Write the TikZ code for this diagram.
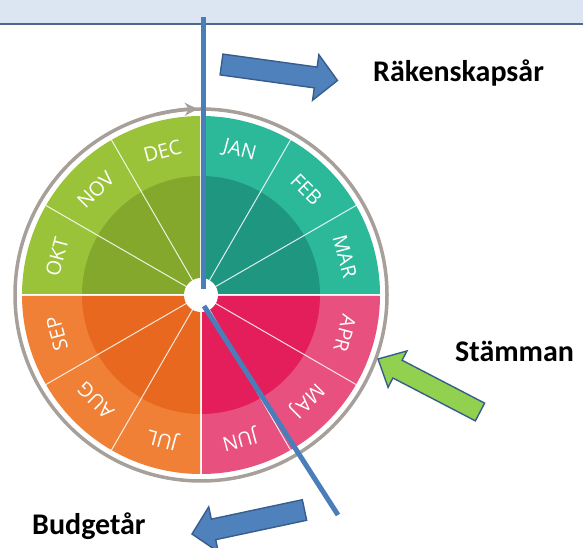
\documentclass[tikz,border=0pt]{standalone}
\usepackage{fontspec}
\setmainfont{Carlito}
\newfontfamily\monthfont{Open Sans}
\usepackage{tikz}
\usetikzlibrary{arrows.meta,calc}

\definecolor{hdrfill}{HTML}{DCE6F2}
\definecolor{hdrline}{HTML}{4A6890}
\definecolor{ringgray}{HTML}{A7A09A}
\definecolor{qoneout}{HTML}{2BB99A}
\definecolor{qonein}{HTML}{1F9680}
\definecolor{qtwoout}{HTML}{E8507F}
\definecolor{qtwoin}{HTML}{E31E5B}
\definecolor{qthreeout}{HTML}{EF8036}
\definecolor{qthreein}{HTML}{E8681F}
\definecolor{qfourout}{HTML}{9BC33A}
\definecolor{qfourin}{HTML}{84A82B}
\definecolor{pinblue}{HTML}{4A7EBB}
\definecolor{arrblue}{HTML}{4F81BD}
\definecolor{arrgreen}{HTML}{92D050}
\definecolor{arredge}{HTML}{385D8A}

% block arrow: style, tail, tip, shaft half width, head half width
\newcommand{\blockarrow}[5]{%
  \coordinate (hb) at ($(#3)!22pt!(#2)$);
  \draw[#1] ($(#2)!#4!90:(#3)$) -- ($(hb)!#4!-90:(#2)$) -- ($(hb)!#5!-90:(#2)$)
    -- (#3) -- ($(hb)!#5!90:(#2)$) -- ($(hb)!#4!90:(#2)$) -- ($(#2)!#4!-90:(#3)$) -- cycle;
}

\begin{document}
\begin{tikzpicture}[x=1pt, y=1pt,
    spoke/.style={white, opacity=0.85, line width=1pt},
    month/.style={white, font=\monthfont\fontsize{20}{20}\selectfont, inner sep=0pt},
    label/.style={font=\bfseries\fontsize{30}{36}\selectfont, anchor=base west, inner sep=0pt},
    pin/.style={pinblue, line width=5pt},
    bluearrow/.style={fill=arrblue, draw=arredge, line width=1.4pt, line join=miter},
    greenarrow/.style={fill=arrgreen, draw=arredge, line width=1.4pt, line join=miter}]
    \useasboundingbox (0,0) rectangle (583,548);

    % header band
    \fill[hdrfill] (0,524) rectangle (583,548);
    \draw[hdrline, line width=2.2pt] (0,524) -- (583,524);

    \coordinate (C) at (201,253);

    \begin{scope}[shift={(C)}]
        % outer ring with arrow
        \draw[ringgray, line width=3.5pt] (0,0) circle (186);
        \draw[ringgray, line width=3.5pt, -{Stealth[length=13pt, width=13pt, inset=4pt]}]
            (104:186) arc[start angle=104, end angle=91, radius=186];

        % quarters
        \foreach \s/\co/\ci in {0/qoneout/qonein, -90/qtwoout/qtwoin,
                                -180/qthreeout/qthreein, 90/qfourout/qfourin} {
            \fill[\co] (0,0) -- (\s:179) arc[start angle=\s, end angle=\s+90, radius=179] -- cycle;
            \fill[\ci] (0,0) -- (\s:119) arc[start angle=\s, end angle=\s+90, radius=119] -- cycle;
        }

        % month spokes
        \foreach \a in {0,30,...,330}
            \draw[spoke] (0,0) -- (\a:179);
        \foreach \a in {0,90,180,270}
            \draw[spoke, line width=1.8pt] (0,0) -- (\a:179);

        % month names
        \foreach \m [count=\i] in {JAN,FEB,MAR,APR,MAJ,JUN,JUL,AUG,SEP,OKT,NOV,DEC} {
            \pgfmathsetmacro\a{105-30*\i}
            \node[month, rotate=\a-90] (m\i) at (\a:149) {\m};
        }

        \node[circle, fill=white, minimum size=34pt, inner sep=0pt] (hub) at (0,0) {};
    \end{scope}

    % hands
    \coordinate (pintop) at (203,531);
    \coordinate (pinbot) at (203,259);
    \coordinate (handin) at (204,242);
    \coordinate (handout) at (338,33);
    \draw[pin] (pintop) -- (pinbot);
    \draw[pin] (handin) -- (handout);

    % arrows
    \coordinate (rtail) at (221.5,483.5);
    \coordinate (rtip) at (337.5,467.5);
    \blockarrow{bluearrow}{rtail}{rtip}{10.5pt}{23pt}
    \coordinate (stail) at (480,136);
    \coordinate (stip) at (378,189);
    \blockarrow{greenarrow}{stail}{stip}{10pt}{20.5pt}
    \coordinate (btail) at (304.5,38);
    \coordinate (btip) at (192,14);
    \blockarrow{bluearrow}{btail}{btip}{10.5pt}{23pt}

    % labels
    \node[label] (rak) at (373,466) {Räkenskapsår};
    \node[label] (stam) at (455,186) {Stämman};
    \node[label] (budg) at (32,13) {Budgetår};
\end{tikzpicture}
\end{document}
